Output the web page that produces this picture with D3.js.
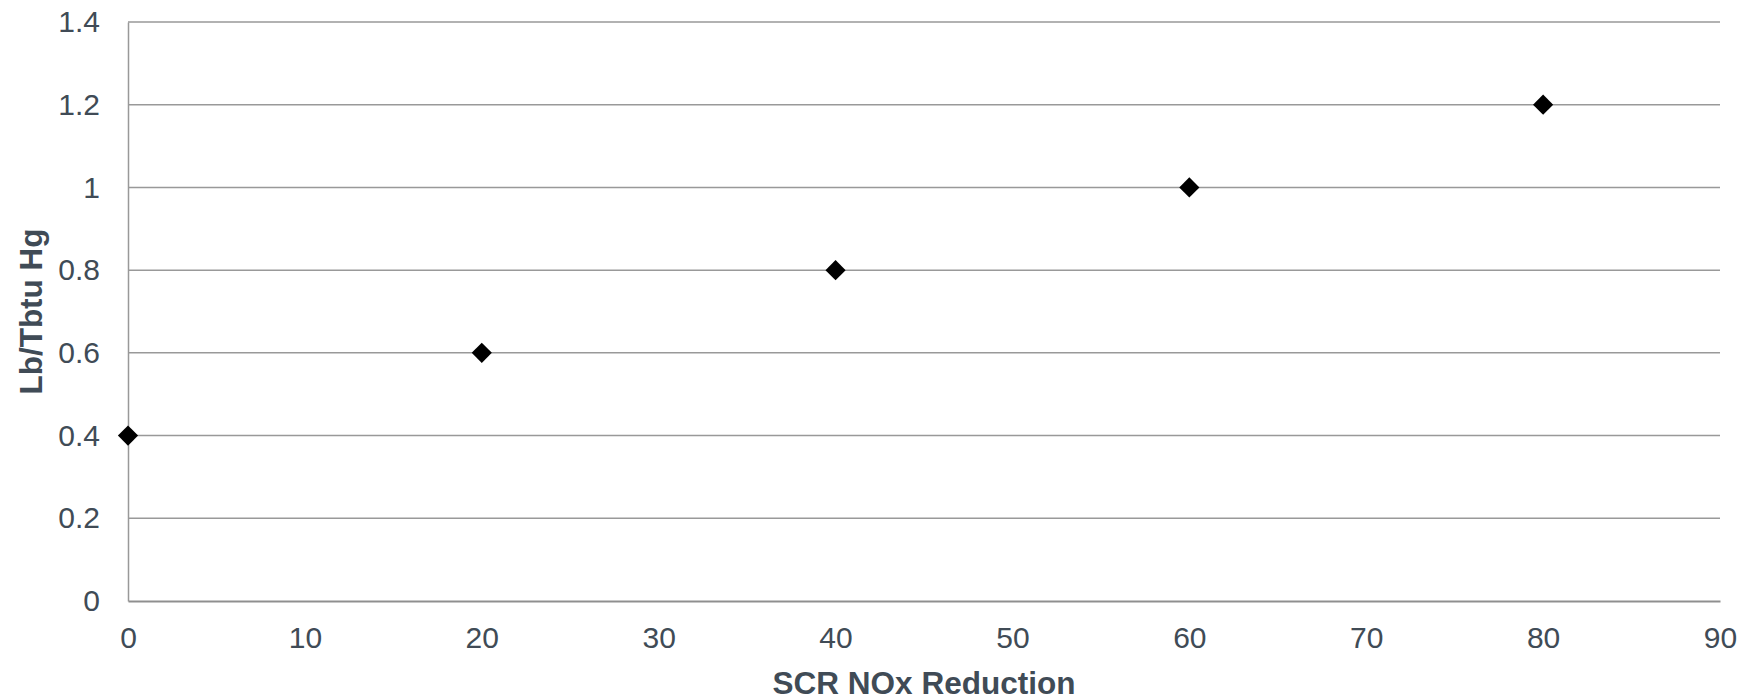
<!DOCTYPE html>
<html>
<head>
<meta charset="utf-8">
<script src="https://cdn.jsdelivr.net/npm/d3@7"></script>
<style>
  body { margin: 0; background: #fff; }
  svg { display: block; font-family: "Liberation Sans", Arial, sans-serif; }
  .tick text { fill: #404b56; font-size: 30px; }
  .title { fill: #404b56; font-weight: bold; }
</style>
</head>
<body>
<svg id="myGraph" width="1757" height="699"></svg>
<script>
// 데이터
var xValues = [0, 20, 40, 60, 80];
var yValues = [0.4, 0.6, 0.8, 1.0, 1.2];
var xTicks = [0, 10, 20, 30, 40, 50, 60, 70, 80, 90];
var yTicks = [0, 0.2, 0.4, 0.6, 0.8, 1, 1.2, 1.4];
var xTitle = "SCR NOx Reduction";
var yTitle = "Lb/Tbtu Hg";

var svg = d3.select("#myGraph");
// 그래프 영역
var plotLeft = 128, plotRight = 1720, plotTop = 22, plotBottom = 601;

var xScale = d3.scaleLinear().domain([0, 90]).range([plotLeft, plotRight]);
var yScale = d3.scaleLinear().domain([0, 1.4]).range([plotBottom, plotTop]);

// 가로 격자선
svg.append("g")
   .selectAll("line")
   .data(yTicks.filter(function(d){ return d > 0; }))
   .enter()
   .append("line")
   .attr("x1", plotLeft)
   .attr("x2", plotRight)
   .attr("y1", function(d){ return yScale(d); })
   .attr("y2", function(d){ return yScale(d); })
   .attr("stroke", "#999999")
   .attr("stroke-width", 1.5);

// 세로 축
var yAxis = svg.append("g")
   .attr("transform", "translate(" + plotLeft + ",0)")
   .call(d3.axisLeft(yScale).tickValues(yTicks).tickSize(0).tickPadding(28)
           .tickFormat(function(d){ return d3.format("~g")(d); }));
yAxis.select(".domain").attr("stroke", "#999999").attr("stroke-width", 1.5);

// 가로 축
var xAxis = svg.append("g")
   .attr("transform", "translate(0," + plotBottom + ")")
   .call(d3.axisBottom(xScale).tickValues(xTicks).tickSize(0).tickPadding(26));
xAxis.select(".domain").attr("stroke", "#8f8f8f").attr("stroke-width", 2);

// 마커 (다이아몬드)
var diamond = d3.symbol().type(d3.symbolDiamond2).size(260);
svg.append("g")
   .selectAll("path")
   .data(xValues)
   .enter()
   .append("path")
   .attr("d", diamond)
   .attr("transform", function(d, i){
     return "translate(" + xScale(d) + "," + yScale(yValues[i]) + ")";
   })
   .attr("fill", "#000");

// 축 제목
svg.append("text")
   .attr("class", "title")
   .attr("x", (plotLeft + plotRight) / 2)
   .attr("y", 694)
   .attr("text-anchor", "middle")
   .attr("font-size", 31.5)
   .text(xTitle);

svg.append("text")
   .attr("class", "title")
   .attr("transform", "translate(42," + ((plotTop + plotBottom) / 2) + ") rotate(-90)")
   .attr("text-anchor", "middle")
   .attr("font-size", 31.5)
   .text(yTitle);
</script>
</body>
</html>
